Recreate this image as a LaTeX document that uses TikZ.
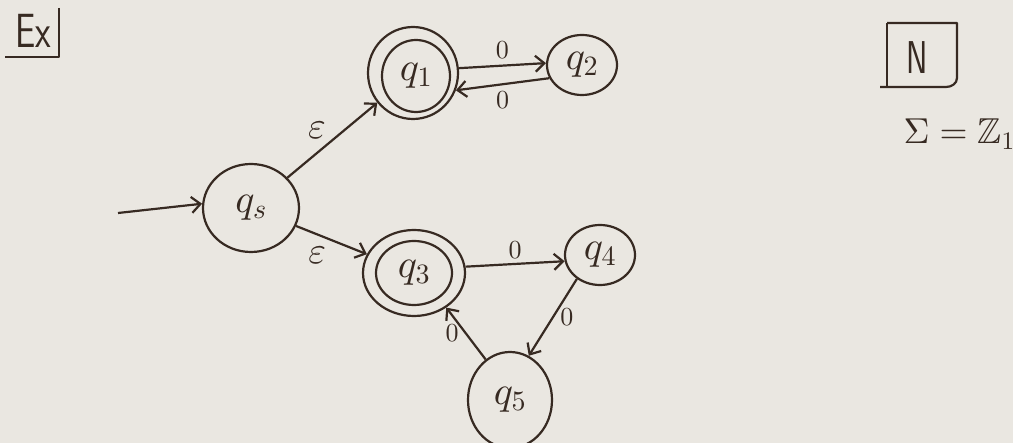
\documentclass[tikz,border=0pt]{standalone}
\usepackage{amssymb}
\DeclareFontShape{OML}{cmm}{m}{it}{<->cmmi10}{}
\DeclareFontShape{OT1}{cmr}{m}{n}{<->cmr10}{}
\DeclareFontShape{OMS}{cmsy}{m}{n}{<->cmsy10}{}
\DeclareFontFamily{U}{msb}{}
\DeclareFontShape{U}{msb}{m}{n}{<->msbm10}{}
\usetikzlibrary{shapes.geometric,arrows.meta}
\definecolor{ink}{RGB}{55,42,34}
\definecolor{paper}{RGB}{234,231,225}
\begin{document}
\begin{tikzpicture}[x=1pt,y=-1pt,
  state/.style={draw=ink,line width=2.2pt,ellipse,inner sep=0pt,text=ink,font=\fontsize{40}{42}\selectfont},
  edge/.style={draw=ink,line width=2.2pt,-{Straight Barb[length=9pt,width=16pt,line width=2.2pt]}},
  lab/.style={text=ink,font=\fontsize{26}{28}\selectfont},
  elab/.style={text=ink,font=\fontsize{38}{40}\selectfont},
  boxline/.style={draw=ink,line width=2.2pt,line join=round},
]
\fill[paper] (0,0) rectangle (1013,443);
\useasboundingbox (0,0) rectangle (1013,443);

% states
\node[state,minimum width=90pt,minimum height=92pt] (q1o) at (413,73) {};
\node[state,minimum width=68pt,minimum height=72pt] (q1) at (416,76) {$q_1$};
\node[state,minimum width=70pt,minimum height=60pt] (q2) at (582,65) {$q_2$};
\node[state,minimum width=96pt,minimum height=88pt] (qs) at (251,208) {$q_s$};
\node[state,minimum width=102pt,minimum height=86pt] (q3o) at (414,273) {};
\node[state,minimum width=76pt,minimum height=64pt] (q3) at (414,273) {$q_3$};
\node[state,minimum width=70pt,minimum height=60pt] (q4) at (600,255) {$q_4$};
\node[state,minimum width=84pt,minimum height=96pt] (q5) at (510,400) {$q_5$};

% start arrow
\coordinate (start) at (118,213);
\draw[edge] (start) -- (qs.175);

% transitions
\draw[edge] (qs) -- (q1o) node[elab,pos=0.33,above=10pt] {$\varepsilon$};
\draw[edge] (qs) -- (q3o) node[elab,pos=0.3,below=8pt] {$\varepsilon$};
\draw[edge] (q1o.6) -- (q2.177) node[lab,midway,above=3pt] {$0$};
\draw[edge] (q2.202) -- (q1o.338) node[lab,midway,below=3pt] {$0$};
\draw[edge] (q3o.7) -- (q4.190) node[lab,midway,above=1pt] {$0$};
\draw[edge] (q4.226) -- (q5.67) node[lab,midway,right=3pt] {$0$};
\draw[edge] (q5.121) -- (q3o.313) node[lab,midway,left=3pt] {$0$};

% corner labels
\draw[boxline] (59,8) -- (59,57) -- (5,57);
\node[text=ink,font=\fontsize{48}{50}\sffamily,xscale=0.75] (ex) at (33,31) {Ex};
\draw[boxline] (887,23) -- (957,23) -- (957,78) to[out=-90,in=0] (946,87) -- (880,87);
\draw[boxline] (887,23) -- (887,87);
\node[text=ink,font=\fontsize{46}{48}\sffamily,xscale=0.7] (N) at (917,58) {N};
\node[text=ink,font=\fontsize{36}{38}\selectfont,anchor=west] (sigma) at (900,134) {$\Sigma = \mathbb{Z}_1$};
\end{tikzpicture}
\end{document}
